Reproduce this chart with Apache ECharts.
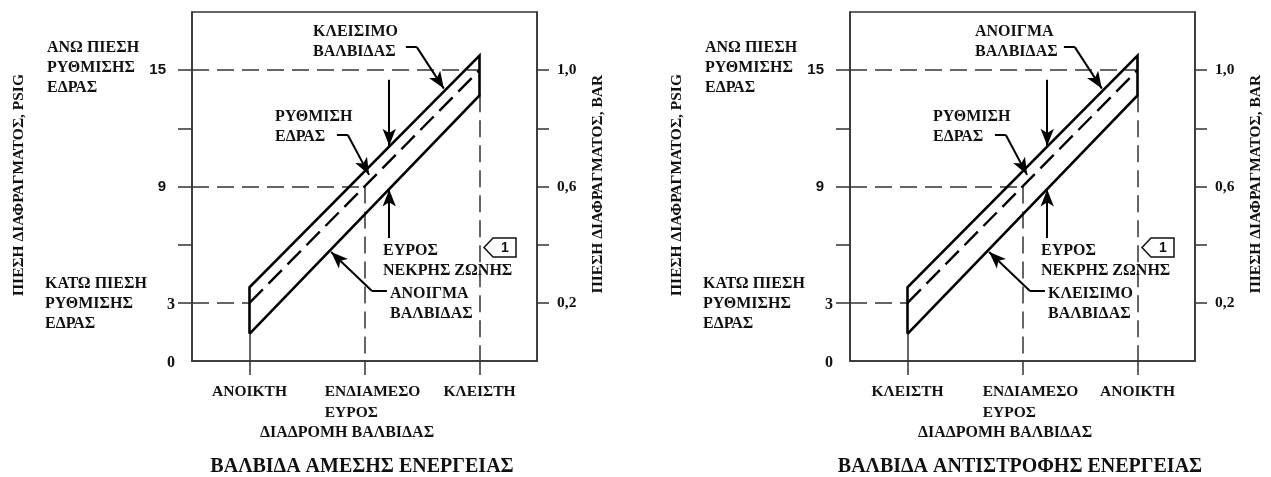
<!DOCTYPE html>
<html><head><meta charset="utf-8">
<script src="https://cdn.jsdelivr.net/npm/echarts@6/dist/echarts.min.js"></script>
<style>html,body{margin:0;padding:0;background:#fff}#c{width:1271px;height:477px}</style>
</head><body><div id="c"></div>
<script>
const SERIF = '"Liberation Serif", "Times New Roman", serif';
const SANS = '"Liberation Sans", Arial, sans-serif';

// ---- data ----
const travelTicks = [1, 3, 5];
const directTravelLabels = ['ΑΝΟΙΚΤΗ', 'ΕΝΔΙΑΜΕΣΟ\nΕΥΡΟΣ', 'ΚΛΕΙΣΤΗ'];
const reverseTravelLabels = ['ΚΛΕΙΣΤΗ', 'ΕΝΔΙΑΜΕΣΟ\nΕΥΡΟΣ', 'ΑΝΟΙΚΤΗ'];
const psiTickValues = [3, 6, 9, 12, 15];
const psiLabelValues = [0, 3, 9, 15];
const barLabelValues = [3, 9, 15];
const barLabels = ['0,2', '0,6', '1,0'];
const bandTravel = [1, 5];
const upperEdge = [3.8, 15.75];
const lowerEdge = [1.4, 13.7];
const seatSetting = [3, 15];
const midTravel = 3;
const midSetting = 9;

const grids = [
  { left: 192, top: 12, width: 345, height: 349 },
  { left: 850, top: 12, width: 345, height: 349 }
];

const LINE = '#333';
function xAxisFor(g, labels) {
  return {
    gridIndex: g, type: 'value', min: 0, max: 6,
    axisLine: { show: true, lineStyle: { color: LINE, width: 1.5 } },
    axisTick: { show: true, customValues: travelTicks, length: 14, lineStyle: { color: LINE, width: 1.5 } },
    splitLine: { show: false },
    axisLabel: {
      customValues: travelTicks, margin: 20,
      fontFamily: SERIF, fontWeight: 'bold', fontSize: 15.5, color: '#111', lineHeight: 21,
      formatter: v => {
        const t = labels[travelTicks.indexOf(v)];
        if (t.indexOf('\n') >= 0) {
          const p = t.split('\n');
          return '{a|' + p[0] + '}\n{b|' + p[1] + '}';
        }
        return t;
      },
      rich: {
        a: { fontFamily: SERIF, fontWeight: 'bold', fontSize: 15.5, lineHeight: 21, color: '#111', padding: [0, 0, 0, 16], align: 'left' },
        b: { fontFamily: SERIF, fontWeight: 'bold', fontSize: 15.5, lineHeight: 21, color: '#111', padding: [0, 0, 0, 16], align: 'left' }
      }
    }
  };
}
function psiAxisFor(g) {
  return {
    gridIndex: g, type: 'value', min: 0, max: 18, interval: 3, position: 'left',
    axisLine: { show: true, lineStyle: { color: LINE, width: 1.5 } },
    axisTick: { show: true, customValues: psiTickValues, length: 14, lineStyle: { color: LINE, width: 1.5 } },
    splitLine: { show: false },
    axisLabel: {
      customValues: psiLabelValues, margin: 17,
      formatter: v => (v === 15 || v === 9) ? '{s|' + v + '}' : '{r|' + v + '}',
      rich: {
        s: { fontFamily: SANS, fontWeight: 'bold', fontSize: 15, color: '#111', padding: [0, 9, 0, 0] },
        r: { fontFamily: SERIF, fontWeight: 'bold', fontSize: 16, color: '#111', padding: [4, 0, 0, 0] }
      }
    }
  };
}
function barAxisFor(g) {
  return {
    gridIndex: g, type: 'value', min: 0, max: 18, interval: 3, position: 'right',
    axisLine: { show: true, lineStyle: { color: LINE, width: 1.5 } },
    axisTick: { show: true, customValues: psiTickValues, length: 12, lineStyle: { color: LINE, width: 1.5 } },
    splitLine: { show: false },
    axisLabel: {
      customValues: barLabelValues, margin: 20,
      fontFamily: SERIF, fontWeight: 'bold', fontSize: 15.5, color: '#111',
      formatter: v => barLabels[barLabelValues.indexOf(v)]
    }
  };
}

function seg(a, b, endArrow) {
  return [
    { coord: a, symbol: 'none' },
    endArrow ? { coord: b, symbol: 'arrow', symbolSize: [10, 17] } : { coord: b, symbol: 'none' }
  ];
}

function seriesFor(g) {
  const xi = g, yi = 2 * g;
  const outline = [
    [bandTravel[0], lowerEdge[0]], [bandTravel[0], upperEdge[0]],
    [bandTravel[1], upperEdge[1]], [bandTravel[1], lowerEdge[1]],
    [bandTravel[0], lowerEdge[0]]
  ];
  const center = [[bandTravel[0], seatSetting[0]], [bandTravel[1], seatSetting[1]]];
  return [
    {
      type: 'line', xAxisIndex: xi, yAxisIndex: yi, data: outline, symbol: 'none', silent: true,
      lineStyle: { color: '#000', width: 2.6, join: 'miter' }, z: 5,
      markLine: {
        silent: true, symbol: ['none', 'none'], label: { show: false }, animation: false,
        lineStyle: { color: LINE, width: 1.5, type: [17, 8] },
        data: [
          [{ coord: [0, seatSetting[1]] }, { coord: [bandTravel[1], seatSetting[1]] }],
          [{ coord: [0, midSetting] }, { coord: [midTravel, midSetting] }],
          [{ coord: [0, seatSetting[0]] }, { coord: [bandTravel[0], seatSetting[0]] }],
          [{ coord: [midTravel, midSetting] }, { coord: [midTravel, 0] }],
          [{ coord: [bandTravel[1], lowerEdge[1]] }, { coord: [bandTravel[1], 0] }],
          [{ coord: [bandTravel[0], lowerEdge[0]] }, { coord: [bandTravel[0], 0], lineStyle: { type: 'solid' } }]
        ]
      }
    },
    {
      type: 'line', xAxisIndex: xi, yAxisIndex: yi, data: center, symbol: 'none', silent: true,
      lineStyle: { color: '#000', width: 2.4, type: [19, 8] }, z: 5
    },
    {
      type: 'line', xAxisIndex: xi, yAxisIndex: yi, data: center, symbol: 'none', silent: true,
      lineStyle: { opacity: 0 }, z: 6,
      markLine: {
        silent: true, label: { show: false }, animation: false,
        lineStyle: { color: '#000', width: 2, type: 'solid' },
        data: [
          seg([3.72, 16.19], [3.91, 16.19], false),
          seg([3.91, 16.19], [4.38, 14.05], true),
          seg([3.43, 14.5], [3.43, 11.1], true),
          seg([3.43, 6.35], [3.43, 8.85], true),
          seg([2.52, 11.66], [2.71, 11.66], false),
          seg([2.71, 11.66], [3.08, 9.6], true),
          seg([3.39, 3.61], [3.13, 3.61], false),
          seg([3.13, 3.61], [2.42, 5.62], true)
        ]
      }
    }
  ];
}

function t(text, x, y, opts) {
  opts = opts || {};
  return {
    type: 'text', x: x, y: y, rotation: opts.rotation || 0, silent: true, z: 10,
    style: {
      text: text, fill: '#111',
      font: 'bold ' + (opts.size || 16) + 'px ' + (opts.family || SERIF),
      align: opts.align || 'left', verticalAlign: 'middle',
      lineHeight: opts.lineHeight || 20
    }
  };
}
function textsFor(dx, topText, bottomText, title, topDx) {
  const L = [];
  L.push(t('ΠΙΕΣΗ ΔΙΑΦΡΑΓΜΑΤΟΣ, PSIG', 19 + dx, 185, { rotation: Math.PI / 2, align: 'center', size: 15.5 }));
  L.push(t('ΠΙΕΣΗ ΔΙΑΦΡΑΓΜΑΤΟΣ, BAR', 598 + dx, 184, { rotation: Math.PI / 2, align: 'center', size: 15.5 }));
  L.push(t('ΑΝΩ ΠΙΕΣΗ\nΡΥΘΜΙΣΗΣ\nΕΔΡΑΣ', 47 + dx, 68, {}));
  L.push(t('ΚΑΤΩ ΠΙΕΣΗ\nΡΥΘΜΙΣΗΣ\nΕΔΡΑΣ', 45 + dx, 304, {}));
  L.push(t(topText, 313 + dx + topDx, 42, {}));
  L.push(t('ΡΥΘΜΙΣΗ\nΕΔΡΑΣ', 275 + dx, 127, {}));
  L.push(t('ΕΥΡΟΣ\nΝΕΚΡΗΣ ΖΩΝΗΣ', 383 + dx, 261, {}));
  L.push(t(bottomText, 390 + dx, 304, {}));
  L.push(t('ΔΙΑΔΡΟΜΗ ΒΑΛΒΙΔΑΣ', 347 + dx, 433, { align: 'center' }));
  L.push(t(title, 362 + dx, 467, { align: 'center', size: 20 }));
  L.push({
    type: 'polygon', silent: true, z: 10,
    shape: { points: [[484 + dx, 247.5], [493 + dx, 238], [516 + dx, 238], [516 + dx, 257], [493 + dx, 257]] },
    style: { fill: '#fff', stroke: '#111', lineWidth: 1.5 }
  });
  L.push(t('1', 505 + dx, 248, { family: SANS, size: 14, align: 'center' }));
  return L;
}

const chart = echarts.init(document.getElementById('c'), null, { renderer: 'canvas' });
chart.setOption({
  animation: false,
  backgroundColor: '#fff',
  grid: grids.map(g => Object.assign({ show: true, borderColor: LINE, borderWidth: 1.5, backgroundColor: 'transparent' }, g)),
  xAxis: [xAxisFor(0, directTravelLabels), xAxisFor(1, reverseTravelLabels)],
  yAxis: [psiAxisFor(0), barAxisFor(0), psiAxisFor(1), barAxisFor(1)],
  series: seriesFor(0).concat(seriesFor(1)),
  graphic: textsFor(0, 'ΚΛΕΙΣΙΜΟ\nΒΑΛΒΙΔΑΣ', 'ΑΝΟΙΓΜΑ\nΒΑΛΒΙΔΑΣ', 'ΒΑΛΒΙΔΑ ΑΜΕΣΗΣ ΕΝΕΡΓΕΙΑΣ', 0)
    .concat(textsFor(658, 'ΑΝΟΙΓΜΑ\nΒΑΛΒΙΔΑΣ', 'ΚΛΕΙΣΙΜΟ\nΒΑΛΒΙΔΑΣ', 'ΒΑΛΒΙΔΑ ΑΝΤΙΣΤΡΟΦΗΣ ΕΝΕΡΓΕΙΑΣ', 4))
});
</script></body></html>
